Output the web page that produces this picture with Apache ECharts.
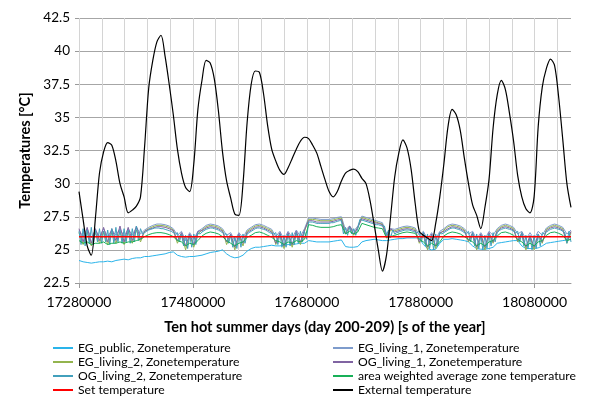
<!DOCTYPE html>
<html>
<head>
<meta charset="utf-8">
<title>Ten hot summer days</title>
<script src="https://cdn.jsdelivr.net/npm/echarts@6.0.0/dist/echarts.min.js"></script>
<style>
  html, body { margin: 0; padding: 0; background: #fff; }
  #chart { width: 592px; height: 399px; }
</style>
</head>
<body>
<div id="chart"></div>
<script>
// time axis: seconds of the year, day 200 .. 209
const startSecond = 17280000;
const endSecond = 18144000;
const xTickLabels = [17280000, 17480000, 17680000, 17880000, 18080000];

// OG_living_2, one value per hour (hour 0 .. 240)
const ogLiving2 = [
  26.4,25.4,26.6,25.3,26.5,25.5,26.7,25.4,26.5,25.6,26.6,25.5,26.4,25.6,26.5,25.4,26.6,25.5,26.7,25.6,26.5,25.5,26.6,25.6,
  26.5,25.5,26.6,25.6,26.8,25.7,26.6,26.2,26.3,26.4,26.5,26.55,26.6,26.65,26.65,26.65,26.6,26.6,26.55,26.5,26.45,26.4,26.3,26.2,
  26.3,25.6,26.2,25.3,26.1,25.1,26.1,25.2,26.2,25.4,26.3,26.2,26.35,26.45,26.55,26.6,26.65,26.65,26.6,26.55,26.5,26.4,26.3,26.2,
  26.2,25.5,26.1,25.2,26.0,25.1,26.1,25.2,26.2,25.5,26.2,26.3,26.4,26.5,26.6,26.65,26.65,26.6,26.55,26.5,26.4,26.3,26.25,26.2,
  26.3,25.4,26.2,25.2,26.1,25.2,26.2,25.3,26.3,25.4,26.3,25.5,26.4,25.6,26.4,25.8,27.1,27.1,27.1,27.05,27.0,27.0,27.0,27.0,
  27.0,27.0,27.0,27.05,27.05,27.1,27.15,27.2,27.2,26.2,26.7,26.1,26.7,26.2,26.6,26.1,26.6,27.3,27.25,27.2,27.15,27.1,27.05,27.0,
  26.95,26.9,26.9,26.85,26.8,26.8,26.1,26.5,25.9,26.5,26.2,26.3,26.35,26.4,26.45,26.5,26.5,26.5,26.45,26.4,26.35,26.3,26.4,25.6,
  26.3,25.3,26.2,25.1,26.1,25.0,26.2,25.3,26.3,26.2,26.3,26.4,26.5,26.6,26.65,26.65,26.6,26.55,26.5,26.4,26.3,26.25,26.4,25.6,
  26.3,25.3,26.2,25.1,26.1,25.0,26.1,25.1,26.2,25.3,26.3,25.6,26.3,26.45,26.55,26.6,26.65,26.6,26.55,26.5,26.4,26.3,26.4,25.6,
  26.3,25.3,26.1,25.1,26.0,25.0,26.1,25.1,26.2,25.3,26.3,26.2,26.35,26.45,26.55,26.6,26.65,26.6,26.55,26.5,26.4,26.3,25.5,26.4,
  25.6
];

// the other series, one value every two hours (hour 0, 2, .. 240)
const egPublic = [
  24.2,24.1,24.05,24.0,24.05,24.1,24.1,24.15,24.1,24.2,24.25,24.3,
  24.25,24.35,24.4,24.4,24.5,24.5,24.55,24.6,24.65,24.7,24.8,24.85,
  24.6,24.5,24.45,24.5,24.5,24.55,24.6,24.7,24.8,24.85,24.9,25.0,
  24.7,24.5,24.4,24.45,24.6,24.9,25.1,25.2,25.2,25.25,25.3,25.35,
  25.3,25.3,25.35,25.4,25.4,25.45,25.5,25.5,25.7,25.65,25.6,25.6,
  25.6,25.6,25.65,25.7,25.75,25.25,25.2,25.2,25.25,25.6,25.7,25.75,
  25.8,25.75,25.7,25.7,25.75,25.8,25.85,25.85,25.9,25.9,25.9,25.9,
  25.4,25.1,25.0,25.05,25.5,25.8,25.8,25.85,25.8,25.75,25.7,25.6,
  25.3,25.1,25.05,25.05,25.1,25.2,25.5,25.55,25.6,25.65,25.7,25.7,
  25.3,25.1,25.1,25.1,25.15,25.3,25.5,25.55,25.6,25.65,25.7,25.75,
  25.8
];
const egLiving1 = [
  26.5,26.0,26.6,25.9,26.5,26.0,26.6,26.0,26.5,26.1,26.6,26.0,
  26.6,26.1,26.7,26.2,26.5,26.7,26.85,26.95,26.95,26.9,26.8,26.6,
  26.1,26.4,25.7,26.3,25.8,26.4,26.6,26.85,26.95,26.9,26.8,26.6,
  26.1,26.3,25.7,26.3,25.9,26.5,26.7,26.9,26.95,26.85,26.7,26.55,
  26.0,26.4,25.8,26.4,25.9,26.5,26.0,26.6,27.4,27.4,27.35,27.3,
  27.3,27.3,27.35,27.45,27.5,26.5,26.8,26.4,26.8,27.55,27.45,27.35,
  27.25,27.15,27.05,26.2,26.6,26.55,26.65,26.75,26.8,26.75,26.65,26.1,
  26.4,25.8,26.3,25.8,26.4,26.6,26.85,26.95,26.9,26.8,26.6,26.2,
  26.4,25.8,26.3,25.8,26.4,26.1,26.6,26.85,26.95,26.85,26.7,26.2,
  26.4,25.8,26.3,25.8,26.4,26.1,26.65,26.85,26.95,26.85,26.7,26.2,
  26.5
];
const egLiving2 = [
  26.3,25.4,26.4,25.3,26.3,25.5,26.4,25.4,26.3,25.5,26.4,25.4,
  26.4,25.5,26.5,25.6,26.4,26.6,26.75,26.85,26.85,26.8,26.7,26.5,
  25.5,26.2,25.0,26.1,25.2,26.2,26.5,26.75,26.85,26.8,26.7,26.5,
  25.4,26.1,25.0,26.1,25.3,26.4,26.6,26.8,26.85,26.75,26.6,26.45,
  25.4,26.2,25.1,26.2,25.2,26.3,25.4,26.4,27.3,27.3,27.25,27.2,
  27.2,27.2,27.25,27.35,27.4,26.2,26.7,26.1,26.7,27.45,27.35,27.25,
  27.15,27.05,26.95,25.9,26.5,26.45,26.55,26.65,26.7,26.65,26.55,25.5,
  26.2,25.0,26.1,25.1,26.2,26.5,26.75,26.85,26.8,26.7,26.5,25.6,
  26.2,25.0,26.1,25.0,26.2,25.5,26.5,26.75,26.85,26.75,26.6,25.6,
  26.2,25.0,26.0,25.0,26.1,25.5,26.55,26.75,26.85,26.75,26.6,25.5,
  26.3
];
const ogLiving1 = [
  26.6,25.6,26.7,25.5,26.6,25.7,26.7,25.6,26.6,25.7,26.8,25.6,
  26.7,25.7,26.8,25.8,26.4,26.55,26.65,26.75,26.75,26.7,26.6,26.45,
  25.7,26.3,25.3,26.2,25.4,26.4,26.45,26.65,26.75,26.7,26.6,26.4,
  25.6,26.2,25.2,26.2,25.5,26.3,26.5,26.7,26.75,26.65,26.5,26.35,
  25.5,26.3,25.3,26.3,25.4,26.4,25.6,26.5,27.2,27.2,27.1,27.1,
  27.1,27.1,27.15,27.25,27.3,26.2,26.8,26.2,26.7,27.35,27.25,27.15,
  27.05,27.0,26.9,26.0,26.6,26.35,26.45,26.55,26.6,26.55,26.45,25.6,
  26.3,25.2,26.2,25.3,26.3,26.4,26.6,26.75,26.7,26.6,26.4,25.7,
  26.3,25.2,26.2,25.2,26.3,25.6,26.4,26.65,26.75,26.65,26.5,25.7,
  26.3,25.2,26.1,25.2,26.2,25.6,26.45,26.65,26.75,26.65,26.5,25.6,
  26.4
];
const averageZone = [
  25.7,25.5,25.6,25.4,25.5,25.5,25.6,25.4,25.5,25.5,25.6,25.5,
  25.6,25.6,25.7,25.8,26.0,26.15,26.25,26.3,26.3,26.25,26.15,26.0,
  25.7,25.6,25.3,25.5,25.4,25.7,26.05,26.25,26.35,26.3,26.2,26.0,
  25.7,25.5,25.3,25.5,25.6,25.95,26.1,26.3,26.35,26.25,26.1,25.95,
  25.7,25.6,25.4,25.6,25.5,25.7,25.6,25.8,26.9,26.85,26.75,26.7,
  26.7,26.7,26.75,26.85,26.9,26.2,26.4,26.2,26.35,27.0,26.9,26.8,
  26.7,26.65,26.6,25.9,26.0,26.1,26.2,26.3,26.35,26.3,26.25,25.8,
  25.6,25.3,25.5,25.3,25.6,26.05,26.25,26.35,26.3,26.2,26.0,25.8,
  25.6,25.3,25.5,25.3,25.6,25.7,26.05,26.3,26.35,26.25,26.1,25.8,
  25.6,25.3,25.5,25.3,25.6,25.7,26.1,26.3,26.35,26.25,26.1,25.7,
  25.8
];
const externalTemp = [
  29.4,27.3,25.3,24.6,27.4,30.8,32.4,33.1,32.9,31.7,30.0,29.0,
  27.8,28.0,28.3,29.0,32.8,37.2,39.3,40.7,41.2,39.6,37.5,35.2,
  32.6,30.8,29.7,29.4,31.5,35.6,37.8,39.3,39.1,37.9,35.5,32.4,
  30.2,28.9,27.7,27.6,30.0,34.6,37.5,38.5,38.4,36.8,34.4,32.6,
  31.7,31.0,30.7,31.2,31.9,32.6,33.2,33.5,33.4,32.9,32.3,31.3,
  30.3,29.4,29.0,29.4,30.2,30.8,31.0,31.1,30.9,30.4,30.0,28.7,
  26.9,25.0,23.4,24.6,27.5,30.5,32.3,33.3,32.7,31.1,28.5,26.4,
  26.1,25.9,25.7,27.0,29.0,31.5,34.3,35.6,35.2,34.0,31.9,30.0,
  28.4,27.6,26.6,28.2,30.3,34.2,36.7,37.8,37.1,35.3,33.2,30.6,
  29.0,28.1,27.8,29.0,34.3,37.3,38.7,39.4,38.9,36.5,33.3,30.0,
  28.2
];
const setTemperature = 26;

const hourly = values => values.map((v, i) => [startSecond + i * 3600, v]);
const twoHourly = values => values.map((v, i) => [startSecond + i * 7200, v]);

const chart = echarts.init(document.getElementById('chart'));
const font = 'Lato, "Open Sans", sans-serif';

const lineSeries = (name, data, color, width) => ({
  name: name,
  type: 'line',
  data: data,
  symbol: 'none',
  lineStyle: { color: color, width: width },
  itemStyle: { color: color },
  animation: false
});

const legendBase = {
  top: 341, height: 80, orient: 'vertical', padding: 0,
  icon: 'rect', itemWidth: 20, itemHeight: 2, itemGap: 0,
  textStyle: { fontFamily: font, fontSize: 12.2, color: '#000', lineHeight: 14 }
};

chart.setOption({
  backgroundColor: '#fff',
  textStyle: { fontFamily: font, color: '#000' },
  grid: { left: 79, right: 21, top: 18, bottom: 116 },
  xAxis: [
    {
      type: 'value',
      min: startSecond,
      max: endSecond,
      interval: 200000,
      position: 'bottom',
      name: 'Ten hot summer days (day 200-209) [s of the year]',
      nameLocation: 'middle',
      nameGap: 37,
      nameTextStyle: { fontFamily: font, fontWeight: 'bold', fontSize: 14.5, color: '#000' },
      axisLine: { show: true, lineStyle: { color: '#9a9a9a' } },
      axisTick: { show: true, customValues: xTickLabels, length: 5, lineStyle: { color: '#9a9a9a' } },
      axisLabel: {
        customValues: xTickLabels,
        formatter: v => String(v),
        fontFamily: font, fontSize: 14, color: '#000', margin: 12
      },
      splitLine: { show: false }
    },
    {
      // light vertical grid every 40000 s
      type: 'value',
      min: startSecond,
      max: endSecond,
      interval: 40000,
      position: 'bottom',
      axisLine: { show: false },
      axisTick: { show: false },
      axisLabel: { show: false },
      splitLine: { show: true, showMaxLine: false, lineStyle: { color: '#d4d4d4', width: 1 } }
    }
  ],
  yAxis: {
    type: 'value',
    min: 22.5,
    max: 42.5,
    interval: 2.5,
    name: 'Temperatures [°C]',
    nameLocation: 'middle',
    nameGap: 45,
    nameTextStyle: { fontFamily: font, fontWeight: 'bold', fontSize: 14.5, color: '#000' },
    axisLine: { show: false },
    axisTick: { show: true, length: 4, lineStyle: { color: '#9a9a9a' } },
    axisLabel: { fontFamily: font, fontSize: 13.5, color: '#000', margin: 9 },
    splitLine: { show: true, lineStyle: { color: '#a6a6a6', width: 1 } }
  },
  legend: [
    Object.assign({}, legendBase, {
      left: 53,
      data: ['EG_public, Zonetemperature', 'EG_living_2, Zonetemperature',
             'OG_living_2, Zonetemperature', 'Set temperature']
    }),
    Object.assign({}, legendBase, {
      left: 333,
      data: ['EG_living_1, Zonetemperature', 'OG_living_1, Zonetemperature',
             'area weighted average zone temperature', 'External temperature']
    })
  ],
  series: [
    lineSeries('EG_public, Zonetemperature', twoHourly(egPublic), '#2ab4ea', 1),
    lineSeries('EG_living_1, Zonetemperature', twoHourly(egLiving1), '#7e9ccc', 1),
    lineSeries('EG_living_2, Zonetemperature', twoHourly(egLiving2), '#93b44e', 1),
    lineSeries('OG_living_1, Zonetemperature', twoHourly(ogLiving1), '#8064a2', 1),
    lineSeries('OG_living_2, Zonetemperature', hourly(ogLiving2), '#42a0bc', 1),
    lineSeries('area weighted average zone temperature', twoHourly(averageZone), '#18b058', 1),
    lineSeries('Set temperature', [[startSecond, setTemperature], [endSecond, setTemperature]], '#ff0000', 1.5),
    Object.assign(lineSeries('External temperature', twoHourly(externalTemp), '#000000', 1.2), { smooth: 0.3 })
  ]
});
</script>
</body>
</html>
